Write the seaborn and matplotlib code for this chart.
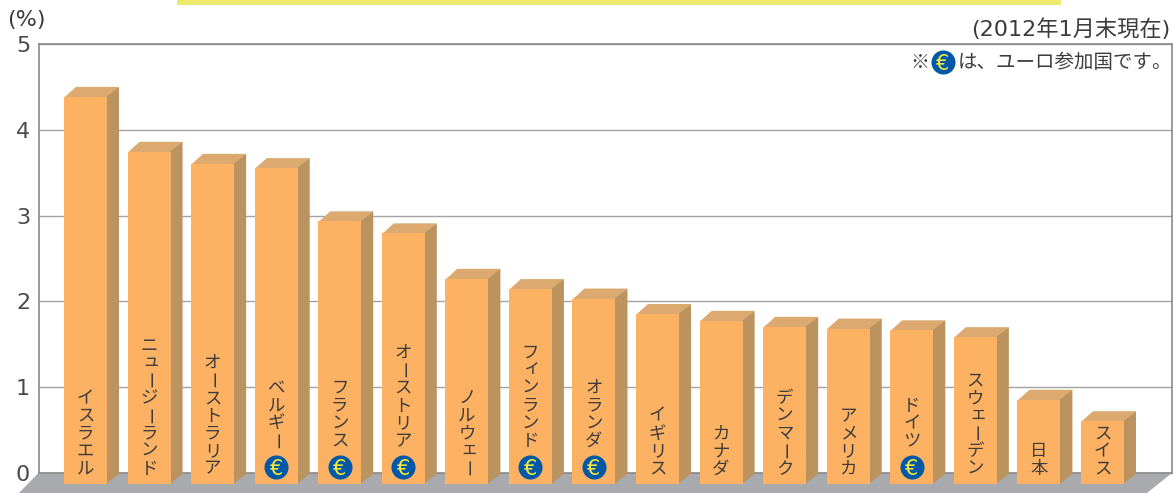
import matplotlib
matplotlib.use('Agg')
import matplotlib.pyplot as plt
from matplotlib.patches import Polygon, Rectangle
import seaborn as sns

countries = ['イスラエル', 'ニュージーランド', 'オーストラリア', 'ベルギー', 'フランス',
             'オーストリア', 'ノルウェー', 'フィンランド', 'オランダ', 'イギリス', 'カナダ',
             'デンマーク', 'アメリカ', 'ドイツ', 'スウェーデン', '日本', 'スイス']
values = [4.51, 3.87, 3.73, 3.68, 3.06, 2.92, 2.39, 2.27, 2.16,
          1.98, 1.90, 1.83, 1.81, 1.79, 1.71, 0.98, 0.73]
euro_members = ['ベルギー', 'フランス', 'オーストリア', 'フィンランド', 'オランダ', 'ドイツ']
y_ticks = [0, 1, 2, 3, 4, 5]

FRONT = '#fdb162'
TOP = '#dcaa70'
SIDE = '#bb935f'
FLOOR = '#a9aaad'
LINE = '#a3a3a3'
TEXT = '#3c3c3c'
EURO_BLUE = '#0058a6'
EURO_YELLOW = '#f4e93c'

W, H = 1173, 493
PX_X = 63.56   # pixels per category
PX_Y = 85.8    # pixels per percent
DX = 12 / PX_X
DY = 10 / PX_Y
BASE = -DY - 0.01
SEAM = 0.01

sns.set_style('white')
plt.rcParams['font.family'] = ['Noto Sans CJK JP', 'DejaVu Sans']
WIDE = ['DejaVu Sans', 'Noto Sans CJK JP']

fig = plt.figure(figsize=(W / 100, H / 100), dpi=100)
ax = fig.add_axes([38.5 / W, 0, (1172 - 38.5) / W, (H - 44) / H])

sns.barplot(x=countries, y=values, color=FRONT, saturation=1, width=0.677,
            bottom=BASE, zorder=4, edgecolor='none', ax=ax)

ax.set_xlim((38.5 - 85.5) / PX_X, (1172 - 85.5) / PX_X)
ax.set_ylim(5 - (H - 44) / PX_Y, 5)
ax.set_xticks([])
ax.set_xlabel('')
ax.set_yticks(y_ticks)
ax.tick_params(axis='y', length=0, pad=6, labelsize=16, labelcolor='#4a4a4a')
for lab in ax.get_yticklabels():
    lab.set_family(WIDE)
ax.yaxis.grid(True, color=LINE, lw=1)
ax.set_axisbelow(True)
ax.patch.set_alpha(0)

for side in ['left', 'right', 'top', 'bottom']:
    ax.spines[side].set_visible(True)
    ax.spines[side].set_color('#8a8a8a')
    ax.spines[side].set_linewidth(1.2)
ax.spines['left'].set_bounds(0, 5)
ax.spines['right'].set_bounds(0, 5)
ax.spines['bottom'].set_position(('data', 0))

# side and top faces of every bar, tucked slightly behind the front face
for bar in list(ax.patches):
    l, b, w, h = bar.get_x(), bar.get_y(), bar.get_width(), bar.get_height()
    r, t = l + w, b + h
    ax.add_patch(Polygon([(l, t - SEAM), (l + DX, t + DY), (r + DX, t + DY), (r, t - SEAM)],
                         closed=True, fc=TOP, ec='none', zorder=3.4))
    ax.add_patch(Polygon([(r - SEAM, b), (r + DX, b + DY), (r + DX, t + DY), (r - SEAM, t)],
                         closed=True, fc=SIDE, ec='none', zorder=3.5))

# floor under the bars
x0, x1 = ax.get_xlim()
y0 = ax.get_ylim()[0]
ax.add_patch(Polygon([(x0, 0), (x1, 0), (x1 - 25 / PX_X, y0), (x0 - 19.5 / PX_X, y0)],
                     closed=True, fc=FLOOR, ec='none', clip_on=False, zorder=1.5))


def euro_icon(x, y, transform):
    ax.scatter([x], [y], s=300, color=EURO_BLUE, linewidths=0, zorder=6,
               transform=transform, clip_on=False)
    ax.text(x, y, '€', color=EURO_YELLOW, fontsize=15, ha='center', va='center_baseline',
            family='DejaVu Sans', zorder=7, transform=transform)


# country names stacked downwards, glyphs upright
SMALL = 'ィェッュ'
STEP = 17.6 / PX_Y
for i, name in enumerate(countries):
    is_euro = name in euro_members
    for j, ch in enumerate(reversed(name)):
        cy = (0.375 if is_euro else 0.05) + j * STEP
        cx = i
        if ch in SMALL:
            cx += 2.5 / PX_X
            cy += 2.5 / PX_Y
        if ch == 'ー':
            cx += 4 / PX_X
            cy += 2 / PX_Y
        ax.text(cx, cy, ch, fontsize=12.5, color=TEXT, ha='center', va='center',
                rotation=90 if ch == 'ー' else 0, zorder=6)
    if is_euro:
        euro_icon(i, 0.07, ax.transData)

# header texts
fig.text(7 / W, 1 - 20 / H, '(%)', fontsize=16, color=TEXT, ha='left', va='center', family=WIDE)
fig.text(1170 / W, 1 - 29 / H, '(2012年1月末現在)', fontsize=16, color=TEXT,
         ha='right', va='center', family=WIDE)
fig.text(958 / W, 1 - 62 / H, 'は、ユーロ参加国です。', fontsize=14, color=TEXT,
         ha='left', va='center')
fig.text(910 / W, 1 - 62 / H, '※', fontsize=13.7, color=TEXT, ha='left', va='center')
euro_icon(943 / W, 1 - 62 / H, fig.transFigure)

# yellow strip at the top edge
fig.add_artist(Rectangle((177 / W, 1 - 5 / H), 884 / W, 5 / H, transform=fig.transFigure,
                         fc='#ece96e', ec='none'))

fig.savefig('out.png', dpi=100)
